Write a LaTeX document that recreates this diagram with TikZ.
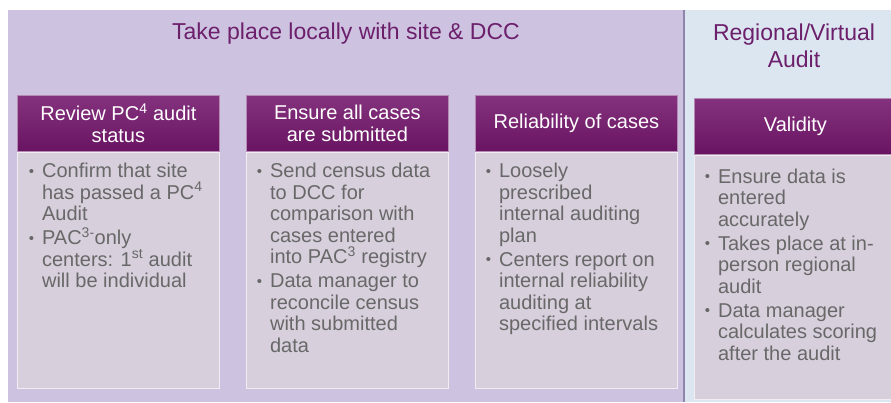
\documentclass[tikz,border=0pt]{standalone}
\usepackage{fontspec}
\setmainfont{Liberation Sans}
\usetikzlibrary{positioning}

\definecolor{panelpurple}{HTML}{CDC3E1}
\definecolor{panelblue}{HTML}{DCE6F1}
\definecolor{divider}{HTML}{8E86AA}
\definecolor{headtop}{HTML}{84327E}
\definecolor{headbot}{HTML}{691462}
\definecolor{headedge}{HTML}{B58AB2}
\definecolor{bodyfill}{HTML}{D7CFDC}
\definecolor{bodyedge}{HTML}{F1EEF3}
\definecolor{bodygray}{HTML}{686868}
\definecolor{titlepurple}{HTML}{6C1F6B}

% bullet hanging left of the line
\newcommand{\bul}{\llap{\raisebox{1.5pt}{\fontsize{15}{15}\selectfont\textbullet}\hspace{8pt}}}

\begin{document}
\begin{tikzpicture}[x=1pt, y=-1pt,
  head/.style={shade, top color=headtop, bottom color=headbot, draw=headedge, line width=0.8pt,
    text=white, minimum width=202pt, minimum height=56pt, align=center, inner sep=0pt,
    font=\fontsize{20}{22}\selectfont},
  body/.style={fill=bodyfill, draw=bodyedge, line width=1pt, minimum width=202pt, inner sep=0pt},
  bodytext/.style={anchor=north west, align=left, text=bodygray, inner sep=0pt,
    font=\fontsize{20}{21.5}\selectfont},
  paneltitle/.style={text=titlepurple, align=center, inner sep=0pt,
    font=\fontsize{23}{27.5}\selectfont}]
\useasboundingbox (0,0) rectangle (891,402);
\clip (0,0) rectangle (891,402);
\fill[white] (0,0) rectangle (891,402);
\fill[panelpurple] (8,10) rectangle (684,402);
\fill[panelblue] (684,10) rectangle (891,402);
\draw[divider, line width=1.5pt] (684,10) -- (684,402);

\node[paneltitle, anchor=base] (local) at (346,39.5) {Take place locally with site \& DCC};
\node[paneltitle, anchor=north] (regional) at (794,23.5) {Regional/Virtual\\Audit};

% local boxes
\node[head, anchor=north west] (h1) at (17,95) {Review PC\textsuperscript{4} audit\\status};
\node[body, minimum height=236pt, below=0pt of h1] (b1) {};
\node[bodytext] (t1) at ([xshift=25pt, yshift=-11.5pt]b1.north west)
  {\bul Confirm that site\\ has passed a PC\textsuperscript{4}\\ Audit\\[2.5pt]
   \bul PAC\textsuperscript{3-}only\\ centers: 1\textsuperscript{st} audit\\ will be individual};

\node[head, anchor=north west] (h2) at (246,95) {Ensure all cases\\are submitted};
\node[body, minimum height=236pt, below=0pt of h2] (b2) {};
\node[bodytext] (t2) at ([xshift=24pt, yshift=-11.5pt]b2.north west)
  {\bul Send census data\\ to DCC for\\ comparison with\\ cases entered\\ into PAC\textsuperscript{3} registry\\[2.5pt]
   \bul Data manager to\\ reconcile census\\ with submitted\\ data};

\node[head, anchor=north west] (h3) at (475,95) {Reliability of cases};
\node[body, minimum height=236pt, below=0pt of h3] (b3) {};
\node[bodytext] (t3) at ([xshift=24pt, yshift=-11.5pt]b3.north west)
  {\bul Loosely\\ prescribed\\ internal auditing\\ plan\\[2.5pt]
   \bul Centers report on\\ internal reliability\\ auditing at\\ specified intervals};

% regional box
\node[head, anchor=north west] (h4) at (694,98) {Validity};
\node[body, minimum height=244pt, below=0pt of h4] (b4) {};
\node[bodytext] (t4) at ([xshift=24pt, yshift=-13.6pt]b4.north west)
  {\bul Ensure data is\\ entered\\ accurately\\[2.5pt]
   \bul Takes place at in-\\ person regional\\ audit\\[2.5pt]
   \bul Data manager\\ calculates scoring\\ after the audit};
\end{tikzpicture}
\end{document}
